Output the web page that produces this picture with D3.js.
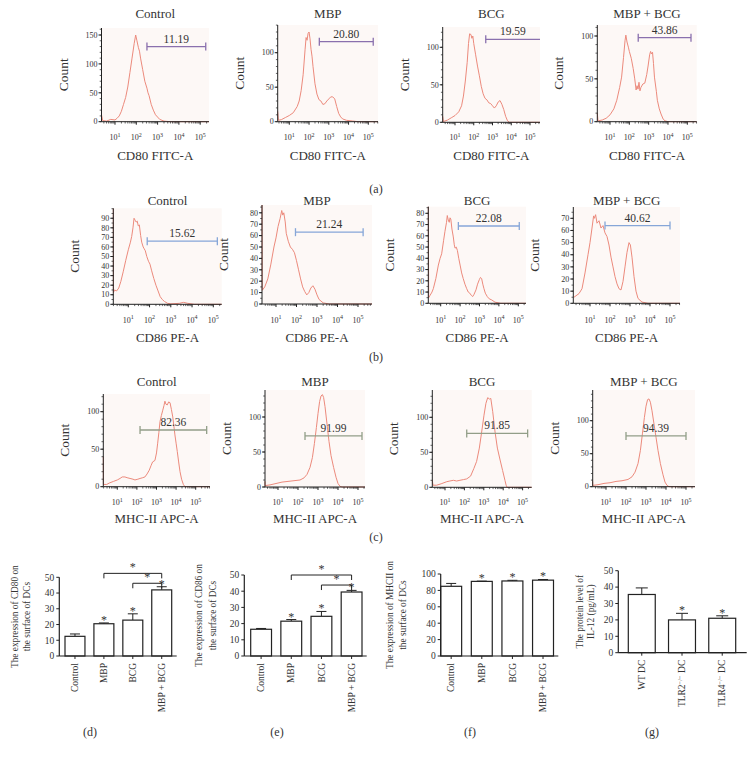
<!DOCTYPE html>
<html><head><meta charset="utf-8">
<script src="https://cdn.jsdelivr.net/npm/d3@7"></script>
<style>
body{margin:0;background:#fff}
text{font-family:"Liberation Serif","DejaVu Serif",serif;fill:#333}
</style>
</head><body><script>
// ---------------- DATA ----------------
const groups = ["Control", "MBP", "BCG", "MBP + BCG"];
// histograms: [log10 fluorescence, count]
const cd80Control = [[0.2,12],[0.42,2],[0.6,1],[0.8,4],[1.0,3],[1.1,6],[1.2,10],[1.3,18],[1.4,30],[1.5,42],[1.6,60],[1.7,85],[1.8,110],[1.9,135],[1.97,150],[2.03,140],[2.1,128],[2.15,122],[2.2,110],[2.3,90],[2.4,70],[2.5,58],[2.55,50],[2.6,45],[2.7,30],[2.8,20],[2.9,12],[3.0,8],[3.1,4],[3.3,1],[3.6,0],[6,0]];
const cd80MBP = [[0.2,15],[0.45,2],[0.6,3],[0.8,6],[1.0,9],[1.2,13],[1.4,22],[1.5,30],[1.6,45],[1.7,68],[1.8,105],[1.85,122],[1.9,118],[1.95,128],[2.0,130],[2.05,120],[2.1,105],[2.15,95],[2.2,80],[2.3,55],[2.4,40],[2.5,32],[2.6,30],[2.7,25],[2.8,26],[2.9,30],[3.0,33],[3.1,36],[3.2,36],[3.3,33],[3.4,22],[3.5,12],[3.6,7],[3.7,4],[3.9,2],[4.2,1],[4.5,0],[6,0]];
const cd80BCG = [[0.2,8],[0.38,1],[0.6,3],[0.8,6],[1.0,9],[1.2,14],[1.35,22],[1.45,35],[1.55,55],[1.65,80],[1.72,105],[1.78,118],[1.85,117],[1.9,112],[1.95,115],[2.0,105],[2.1,90],[2.2,75],[2.3,62],[2.4,48],[2.5,38],[2.6,32],[2.7,30],[2.8,26],[2.9,25],[3.0,22],[3.1,19],[3.2,22],[3.3,27],[3.4,29],[3.5,24],[3.6,17],[3.7,8],[3.8,2],[3.9,0],[6,0]];
const cd80Both = [[0.2,10],[0.38,1],[0.6,2],[0.8,4],[1.0,8],[1.2,15],[1.35,25],[1.5,40],[1.6,52],[1.7,75],[1.78,95],[1.82,101],[1.88,93],[1.95,87],[2.0,82],[2.1,74],[2.2,62],[2.28,50],[2.35,37],[2.4,42],[2.45,38],[2.5,46],[2.55,36],[2.6,40],[2.7,44],[2.8,45],[2.9,55],[2.97,65],[3.05,78],[3.1,82],[3.15,79],[3.2,81],[3.25,68],[3.3,52],[3.4,35],[3.45,25],[3.55,15],[3.64,9],[3.75,3],[3.85,1],[4.0,0],[6,0]];

const cd86Control = [[0.2,100],[0.3,12],[0.35,15],[0.45,14],[0.55,17],[0.65,24],[0.76,34],[0.88,46],[1.0,57],[1.1,65],[1.16,71],[1.22,80],[1.27,90],[1.32,88],[1.37,86],[1.42,87],[1.47,82],[1.52,83],[1.58,72],[1.63,65],[1.7,60],[1.75,58],[1.8,56],[1.87,50],[1.95,45],[2.02,42],[2.1,35],[2.2,27],[2.3,20],[2.4,14],[2.5,8],[2.6,5],[2.7,3],[2.85,1],[3.0,0.5],[3.4,1],[3.6,2],[3.8,1],[4.1,0],[6,0]];
const cd86MBP = [[0.2,88],[0.33,12],[0.45,15],[0.6,22],[0.75,35],[0.9,50],[1.0,58],[1.1,68],[1.2,75],[1.28,82],[1.33,78],[1.38,80],[1.45,72],[1.5,62],[1.6,55],[1.7,50],[1.8,48],[1.9,45],[2.0,38],[2.1,30],[2.2,22],[2.3,15],[2.4,11],[2.5,8],[2.6,10],[2.7,14],[2.8,16],[2.9,13],[3.0,8],[3.1,4],[3.3,1],[3.6,0],[6,0]];
const cd86BCG = [[0.2,86],[0.38,5],[0.45,7],[0.55,10],[0.62,13],[0.75,22],[0.88,34],[0.97,40],[1.05,44],[1.15,56],[1.22,64],[1.3,72],[1.34,78],[1.39,74],[1.44,72],[1.48,76],[1.52,75],[1.58,66],[1.65,59],[1.7,52],[1.74,49],[1.8,50],[1.86,47],[1.93,40],[2.0,34],[2.08,27],[2.16,22],[2.25,17],[2.34,13],[2.42,10],[2.5,9],[2.58,7],[2.65,6],[2.72,8],[2.82,12],[2.9,17],[2.99,21],[3.05,23],[3.11,22],[3.17,17],[3.23,13],[3.3,9],[3.4,6],[3.5,4],[3.63,3],[3.8,1],[4.1,0],[6,0]];
const cd86Both = [[0.2,5],[0.45,8],[0.6,12],[0.75,25],[0.9,40],[1.0,50],[1.1,62],[1.18,72],[1.22,70],[1.28,73],[1.35,66],[1.45,68],[1.55,62],[1.65,64],[1.75,58],[1.85,55],[1.95,48],[2.05,38],[2.15,30],[2.25,22],[2.35,16],[2.45,12],[2.55,11],[2.65,18],[2.75,30],[2.85,42],[2.95,50],[3.02,48],[3.1,38],[3.2,22],[3.3,10],[3.4,4],[3.6,1],[3.9,0],[6,0]];

const mhcControl = [[0.2,40],[0.29,3],[0.46,3],[0.6,5],[0.8,7],[1.0,9],[1.14,11],[1.25,13],[1.39,13],[1.5,12],[1.65,11],[1.8,10],[1.9,9],[2.05,10],[2.16,11],[2.3,12],[2.41,13],[2.52,17],[2.63,22],[2.72,28],[2.8,33],[2.92,35],[3.0,45],[3.06,58],[3.12,72],[3.18,87],[3.25,95],[3.32,102],[3.38,108],[3.43,114],[3.48,110],[3.55,109],[3.62,113],[3.69,112],[3.76,103],[3.83,93],[3.9,78],[3.94,69],[4.0,58],[4.06,47],[4.13,33],[4.2,20],[4.28,10],[4.37,3],[4.45,0],[6,0]];
const mhcMBP = [[0.2,8],[0.33,2],[0.6,3],[0.9,5],[1.2,7],[1.5,8],[1.8,9],[2.1,10],[2.3,13],[2.45,18],[2.6,28],[2.72,42],[2.82,62],[2.92,85],[3.0,105],[3.08,122],[3.15,130],[3.22,132],[3.28,128],[3.35,115],[3.45,90],[3.55,65],[3.65,45],[3.78,28],[3.9,14],[4.0,5],[4.1,1],[4.2,0],[6,0]];
const mhcBCG = [[0.2,10],[0.38,3],[0.57,3],[0.8,5],[1.09,8],[1.25,9],[1.43,10],[1.6,9],[1.77,10],[1.95,11],[2.12,12],[2.32,16],[2.49,27],[2.63,37],[2.77,56],[2.89,79],[3.01,103],[3.11,120],[3.2,128],[3.3,126],[3.36,127],[3.46,108],[3.58,79],[3.7,56],[3.84,39],[3.97,24],[4.09,10],[4.15,3],[4.2,0],[6,0]];
const mhcBoth = [[0.2,8],[0.33,2],[0.6,3],[0.9,5],[1.2,6],[1.5,8],[1.8,9],[2.1,11],[2.3,15],[2.45,22],[2.6,35],[2.72,55],[2.82,80],[2.92,105],[3.0,122],[3.08,132],[3.15,133],[3.22,128],[3.3,115],[3.4,95],[3.5,75],[3.6,55],[3.72,35],[3.85,18],[3.95,7],[4.05,2],[4.15,0],[6,0]];

// gates: [low log, high log, count level]
const cd80Gates = [[2.5,5.26,130],[2.52,5.25,116],[2.64,6,110.7],[2.46,5.19,98]];
const cd80GateLabels = ["11.19","20.80","19.59","43.86"];
const cd86Gates = [[1.89,5.19,66],[1.95,5.25,63],[1.91,5.05,68.7],[1.75,5.0,64]];
const cd86GateLabels = ["15.62","21.24","22.08","40.62"];
const mhcGates = [[2.16,5.56,75.6],[2.35,5.2,73],[2.12,5.26,77],[2.0,5.0,77]];
const mhcGateLabels = ["82.36","91.99","91.85","94.39"];

const xTickExps = [1,2,3,4,5];

// bar charts
const cd80Means = [12.5, 20.5, 22.8, 42];
const cd80Err   = [1.5, 0.5, 4, 2];
const cd80Stars = [false, true, true, true];
const cd86Means = [16.5, 21.5, 24.5, 39.5];
const cd86Err   = [0.5, 1, 3, 1];
const cd86Stars = [false, true, true, true];
const mhcMeans  = [85, 91, 91.5, 92.5];
const mhcErr    = [3.5, 0.3, 0.8, 0.8];
const mhcStars  = [false, true, true, true];
const il12Groups = ["WT DC", "TLR2", "TLR4"];
const il12Means = [35.5, 20, 21];
const il12Err   = [4, 4, 1.5];
const il12Stars = [false, true, true];
const cd80Brackets = [["MBP","MBP + BCG",52.5],["BCG","MBP + BCG",46.2]];
const cd86Brackets = [["MBP","MBP + BCG",50],["BCG","MBP + BCG",43.8]];

// ---------------- DRAW ----------------
const svg = d3.select("body").append("svg").attr("width",752).attr("height",758);
const HIST = "#ec8a7c", AX = "#222";

function histPanel(c) {
  const lo = 1 - (c.dec1 - c.ax)/c.dpx, hi = 1 + (c.right - c.dec1)/c.dpx;
  const x = d3.scaleLinear().domain([lo,hi]).range([c.ax,c.right]).clamp(true);
  const yMax = (c.zero - c.top)/c.per;
  const y = d3.scaleLinear().domain([0,yMax]).range([c.zero,c.top]).clamp(true);
  const g = svg.append("g");
  g.append("rect").attr("x",c.ax).attr("y",c.top).attr("width",c.right-c.ax).attr("height",c.zero-c.top).attr("fill","#fdf8f6");
  g.append("path").datum(c.data).attr("fill","none").attr("stroke",HIST).attr("stroke-width",1)
    .attr("d", d3.line().x(d=>x(d[0])).y(d=>y(d[1])));
  // x axis
  g.append("line").attr("x1",c.ax).attr("x2",c.right).attr("y1",c.zero).attr("y2",c.zero).attr("stroke",AX);
  const minors = [];
  for (let e=0;e<6;e++) for (let k=2;k<=9;k++){const v=e+Math.log10(k); if(v>lo&&v<hi) minors.push(v);}
  g.selectAll(null).data(minors).join("line").attr("x1",d=>x(d)).attr("x2",d=>x(d)).attr("y1",c.zero).attr("y2",c.zero+1.8).attr("stroke",AX).attr("stroke-width",0.7);
  g.selectAll(null).data(xTickExps).join("line").attr("x1",d=>x(d)).attr("x2",d=>x(d)).attr("y1",c.zero).attr("y2",c.zero+3).attr("stroke",AX);
  const tl = g.selectAll(null).data(xTickExps).join("text").attr("x",d=>x(d)).attr("y",c.tickY).attr("text-anchor","middle").attr("font-size",8);
  tl.append("tspan").text("10");
  tl.append("tspan").attr("dy",-3.5).attr("font-size",6).text(d=>d);
  // y axis
  g.append("line").attr("x1",c.ax).attr("x2",c.ax).attr("y1",c.zero).attr("y2",c.top).attr("stroke",AX);
  const ym = d3.range(0, yMax, c.yMinor);
  g.selectAll(null).data(ym).join("line").attr("x1",c.ax-1.8).attr("x2",c.ax).attr("y1",d=>y(d)).attr("y2",d=>y(d)).attr("stroke",AX).attr("stroke-width",0.7);
  g.selectAll(null).data(c.yTicks).join("line").attr("x1",c.ax-3).attr("x2",c.ax).attr("y1",d=>y(d)).attr("y2",d=>y(d)).attr("stroke",AX);
  g.selectAll(null).data(c.yTicks).join("text").attr("x",c.ax-4).attr("y",d=>y(d)+2.7).attr("text-anchor","end").attr("font-size",8).text(d=>d);
  // gate
  const [glo,ghi,glv] = c.gate;
  const gy = y(glv);
  g.append("line").attr("x1",x(glo)).attr("x2",x(ghi)).attr("y1",gy).attr("y2",gy).attr("stroke",c.gateColor).attr("stroke-width",1.3);
  g.append("line").attr("x1",x(glo)).attr("x2",x(glo)).attr("y1",gy-4).attr("y2",gy+4).attr("stroke",c.gateColor).attr("stroke-width",1.3);
  if (ghi < hi) g.append("line").attr("x1",x(ghi)).attr("x2",x(ghi)).attr("y1",gy-4).attr("y2",gy+4).attr("stroke",c.gateColor).attr("stroke-width",1.3);
  g.append("text").attr("x",(x(glo)+x(ghi))/2).attr("y",gy-4).attr("text-anchor","middle").attr("font-size",11.5).text(c.gateLabel);
  // labels
  const mid = (c.ax+c.right)/2;
  g.append("text").attr("x",mid).attr("y",c.titleY).attr("text-anchor","middle").attr("font-size",13).text(c.title);
  g.append("text").attr("x",mid).attr("y",c.labelY).attr("text-anchor","middle").attr("font-size",13).text(c.xlabel);
  g.append("text").attr("transform",`translate(${c.ax-34},${(c.zero+c.top)/2}) rotate(-90)`).attr("text-anchor","middle").attr("font-size",13.5).text("Count");
}

const rowA = {titleY:18, tickY:140, labelY:159.5, xlabel:"CD80 FITC-A", gateColor:"#8a70ae", yTicks:[0,50,100,150], yMinor:10};
const rowB = {titleY:205, tickY:322.5, labelY:342, xlabel:"CD86 PE-A", gateColor:"#86a6d8", yMinor:5};
const rowC = {titleY:386, tickY:505, labelY:523, xlabel:"MHC-II APC-A", gateColor:"#929e88", yTicks:[0,50,100], yMinor:10};

const histLayouts = [
  Object.assign({}, rowA, {ax:101.5,right:209,dec1:115,dpx:21.3,zero:121.7,top:28,per:0.578, data:cd80Control}),
  Object.assign({}, rowA, {ax:277.7,right:378,dec1:289.3,dpx:19.75,zero:121.7,top:25,per:0.69, yTicks:[0,50,100], data:cd80MBP}),
  Object.assign({}, rowA, {ax:442.7,right:540,dec1:455,dpx:18.75,zero:122.3,top:27,per:0.75, yTicks:[0,50,100], data:cd80BCG}),
  Object.assign({}, rowA, {ax:597.3,right:696.7,dec1:610,dpx:19.33,zero:121.7,top:25,per:0.857, yTicks:[0,50,100], data:cd80Both}),
  Object.assign({}, rowB, {ax:113.3,right:221.7,dec1:128.3,dpx:21.25,zero:304.3,top:208.3,per:0.956, yTicks:d3.range(0,100,10), data:cd86Control}),
  Object.assign({}, rowB, {ax:262,right:372,dec1:276,dpx:20.5,zero:304,top:205,per:1.14, yTicks:d3.range(0,90,10), data:cd86MBP}),
  Object.assign({}, rowB, {ax:428.3,right:526,dec1:440.7,dpx:19.4,zero:303.3,top:206.7,per:1.125, yTicks:d3.range(0,90,10), data:cd86BCG}),
  Object.assign({}, rowB, {ax:573.3,right:680,dec1:590,dpx:20,zero:303.3,top:207,per:1.214, yTicks:d3.range(0,80,10), data:cd86Both}),
  Object.assign({}, rowC, {ax:103.3,right:210,dec1:117.3,dpx:19.6,zero:486.7,top:394,per:0.75, data:mhcControl}),
  Object.assign({}, rowC, {ax:265,right:365,dec1:278,dpx:20,zero:487,top:390,per:0.7, data:mhcMBP}),
  Object.assign({}, rowC, {ax:432.3,right:531.7,dec1:445,dpx:19.4,zero:487.3,top:390,per:0.7, data:mhcBCG}),
  Object.assign({}, rowC, {ax:592.7,right:695,dec1:606,dpx:20,zero:486.7,top:390,per:0.66, data:mhcBoth})
];
const allGates = cd80Gates.concat(cd86Gates, mhcGates);
const allGateLabels = cd80GateLabels.concat(cd86GateLabels, mhcGateLabels);
histLayouts.forEach((c,i) => {
  c.title = groups[i%4];
  c.gate = allGates[i];
  c.gateLabel = allGateLabels[i];
  histPanel(c);
});

// panel letters
[["(a)",376,193],["(b)",376,361],["(c)",376,541],["(d)",90,736],["(e)",277,736],["(f)",470,736],["(g)",652,736]].forEach(([t,x,yy]) =>
  svg.append("text").attr("x",x).attr("y",yy).attr("text-anchor","middle").attr("font-size",12).text(t));

function barPanel(c) {
  const x = d3.scaleBand().domain(c.cats).range([c.barL,c.barR]).paddingInner(c.pad);
  const y = d3.scaleLinear().domain([0,c.yMax]).range([c.zero,c.topY]);
  const g = svg.append("g");
  const bw = x.bandwidth();
  c.cats.forEach((k,i) => {
    const m = c.means[i], e = c.err[i], cx = x(k)+bw/2;
    g.append("line").attr("x1",cx).attr("x2",cx).attr("y1",y(m)).attr("y2",y(m+e)).attr("stroke",AX).attr("stroke-width",1);
    g.append("line").attr("x1",cx-c.cap).attr("x2",cx+c.cap).attr("y1",y(m+e)).attr("y2",y(m+e)).attr("stroke",AX).attr("stroke-width",1);
    g.append("rect").attr("x",x(k)).attr("y",y(m)).attr("width",bw).attr("height",y(0)-y(m)).attr("fill","#fff").attr("stroke",AX).attr("stroke-width",1.2);
    if (c.stars[i]) g.append("text").attr("x",cx).attr("y",y(m+e)+1).attr("text-anchor","middle").attr("font-size",12).text("*");
    g.append("line").attr("x1",cx).attr("x2",cx).attr("y1",c.zero).attr("y2",c.zero+3).attr("stroke",AX);
  });
  // axes
  g.append("line").attr("x1",c.ax).attr("x2",c.axR).attr("y1",c.zero).attr("y2",c.zero).attr("stroke",AX).attr("stroke-width",1.2);
  g.append("line").attr("x1",c.ax).attr("x2",c.ax).attr("y1",c.zero).attr("y2",y(c.yMax)).attr("stroke",AX).attr("stroke-width",1.2);
  const ticks = d3.range(0,c.yMax+0.01,c.step);
  g.selectAll(null).data(ticks).join("line").attr("x1",c.ax-3).attr("x2",c.ax).attr("y1",d=>y(d)).attr("y2",d=>y(d)).attr("stroke",AX);
  g.selectAll(null).data(ticks).join("text").attr("x",c.ax-5).attr("y",d=>y(d)+3.3).attr("text-anchor","end").attr("font-size",9.5).text(d=>d);
  // category labels
  c.cats.forEach((k,i) => {
    const cx = x(k)+bw/2;
    const t = g.append("text").attr("transform",`translate(${cx+3.2},${c.zero+7}) rotate(-90)`).attr("text-anchor","end").attr("font-size",9.5);
    if (c.supers && c.supers[i]) {
      t.append("tspan").text(k);
      t.append("tspan").attr("dy",-3.5).attr("font-size",6.5).text("−/−");
      t.append("tspan").attr("dy",3.5).text(" DC");
    } else t.text(k);
  });
  // y label
  const my = (c.zero + y(c.yMax))/2;
  c.ylabel.forEach((ln,j) => g.append("text").attr("transform",`translate(${c.ylx[j]},${my}) rotate(-90)`).attr("text-anchor","middle").attr("font-size",9.3).text(ln));
  // brackets
  (c.brackets||[]).forEach(([a,b,lv]) => {
    const xa = x(a)+bw/2, xb = x(b)+bw/2, by = y(lv);
    g.append("path").attr("d",`M${xa},${by+5}V${by}H${xb}V${by+5}`).attr("fill","none").attr("stroke",AX).attr("stroke-width",1);
    g.append("text").attr("x",(xa+xb)/2).attr("y",by-2).attr("text-anchor","middle").attr("font-size",12).text("*");
  });
}

barPanel({cats:groups, means:cd80Means, err:cd80Err, stars:cd80Stars, brackets:cd80Brackets,
  barL:65, barR:171.7, pad:0.31, ax:59.3, axR:176.7, zero:656, topY:577.3, yMax:50, step:10, cap:5,
  ylabel:["The expression of CD80 on","the surface of DCs"], ylx:[18,29.5]});
barPanel({cats:groups, means:cd86Means, err:cd86Err, stars:cd86Stars, brackets:cd86Brackets,
  barL:250.7, barR:362, pad:0.31, ax:244.3, axR:366.7, zero:656, topY:575, yMax:50, step:10, cap:5,
  ylabel:["The expression of CD86 on","the surface of DCs"], ylx:[201.5,216]});
barPanel({cats:groups, means:mhcMeans, err:mhcErr, stars:mhcStars,
  barL:440.7, barR:553.5, pad:0.316, ax:440.7, axR:558.3, zero:656, topY:574, yMax:100, step:20, cap:5,
  ylabel:["The expression of MHCII on","the surface of DCs"], ylx:[393,405.5]});
barPanel({cats:il12Groups, means:il12Means, err:il12Err, stars:il12Stars, supers:[false,true,true],
  barL:628.3, barR:735.7, pad:0.33, ax:618.3, axR:746.7, zero:652.7, topY:570.7, yMax:50, step:10, cap:6,
  ylabel:["The protein level of","IL-12 (pg/mL)"], ylx:[582.5,593.5]});
</script></body></html>
